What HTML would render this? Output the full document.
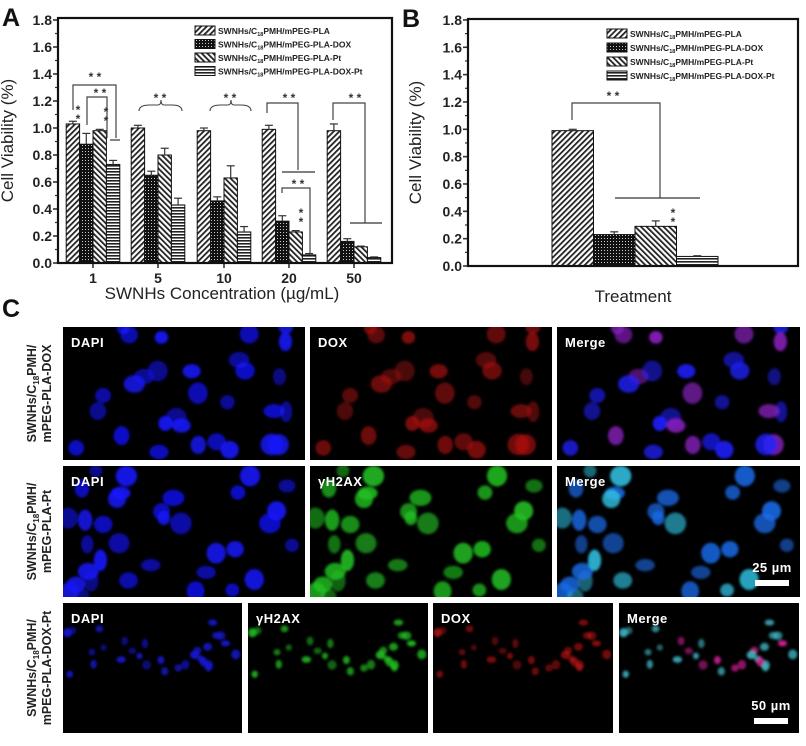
<!DOCTYPE html>
<html><head><meta charset="utf-8">
<style>
html,body{margin:0;padding:0;background:#fff;width:806px;height:746px;overflow:hidden}
svg{display:block;font-family:"Liberation Sans",Arial,sans-serif}
.tk{font-size:14px;font-weight:bold;fill:#222}
.lg{font-size:8.5px;font-weight:bold;fill:#222}
.ttl{font-size:17px;fill:#222}
.pl{font-size:13px;font-weight:bold;fill:#fff;letter-spacing:0.5px}
.rl{font-size:12.5px;font-weight:bold;fill:#222}
</style></head>
<body>
<svg id="fig" width="806" height="746" viewBox="0 0 806 746">
<defs>
<pattern id="pFwd" patternUnits="userSpaceOnUse" width="4" height="4" patternTransform="rotate(45)"><rect width="4" height="4" fill="#fff"/><rect width="1.8" height="4" fill="#222"/></pattern>
<pattern id="pDot" patternUnits="userSpaceOnUse" width="3" height="3"><rect width="3" height="3" fill="#111"/><rect x="1" y="1" width="1" height="1" fill="#ccc"/></pattern>
<pattern id="pBack" patternUnits="userSpaceOnUse" width="4" height="4" patternTransform="rotate(-45)"><rect width="4" height="4" fill="#fff"/><rect width="1.8" height="4" fill="#222"/></pattern>
<pattern id="pHor" patternUnits="userSpaceOnUse" width="4" height="3"><rect width="4" height="3" fill="#fff"/><rect width="4" height="1.6" fill="#222"/></pattern>
<filter id="blur" x="-30%" y="-30%" width="160%" height="160%"><feGaussianBlur stdDeviation="1.2"/></filter>
</defs>
<g id="panelA"></g>
<g id="panelB"></g>
<g id="panelC"></g>
</svg>
<script>
// ---- Panel A data ----
const catsA = ["1","5","10","20","50"];
const seriesNames = ["SWNHs/C18PMH/mPEG-PLA","SWNHs/C18PMH/mPEG-PLA-DOX","SWNHs/C18PMH/mPEG-PLA-Pt","SWNHs/C18PMH/mPEG-PLA-DOX-Pt"];
const plaA    = [1.03, 1.00, 0.98, 0.99, 0.98];
const plaErrA = [0.02, 0.02, 0.02, 0.03, 0.05];
const doxA    = [0.88, 0.65, 0.46, 0.31, 0.16];
const doxErrA = [0.08, 0.03, 0.03, 0.04, 0.02];
const ptA     = [0.98, 0.80, 0.63, 0.23, 0.12];
const ptErrA  = [0.01, 0.05, 0.09, 0.01, 0.005];
const dpA     = [0.73, 0.43, 0.23, 0.06, 0.04];
const dpErrA  = [0.03, 0.05, 0.04, 0.01, 0.005];
// ---- Panel B data ----
const valsB = [0.99, 0.23, 0.29, 0.07];
const errB  = [0.01, 0.02, 0.04, 0.005];
const yTicks = ["0.0","0.2","0.4","0.6","0.8","1.0","1.2","1.4","1.6","1.8"];

const NS="http://www.w3.org/2000/svg";
const fills=["url(#pFwd)","url(#pDot)","url(#pBack)","url(#pHor)"];
function mk(tag,attrs,parent){const e=document.createElementNS(NS,tag);for(const k in attrs)e.setAttribute(k,attrs[k]);if(parent)parent.appendChild(e);return e;}
function txt(parent,x,y,s,cls,anchor){const t=mk("text",{x:x,y:y,class:cls,"text-anchor":anchor||"start"},parent);t.textContent=s;return t;}
function line(p,x1,y1,x2,y2,w){return mk("line",{x1,y1,x2,y2,stroke:"#333","stroke-width":w||1.2},p);}
function poly(p,pts){return mk("polyline",{points:pts.map(a=>a.join(",")).join(" "),fill:"none",stroke:"#444","stroke-width":1.2},p);}

function axes(g,L,R,T,B,yFn,letter,titleX,letterX){
  for(let i=0;i<yTicks.length;i++){
    const v=parseFloat(yTicks[i]);const y=yFn(v);
    line(g,L-5,y,L,y,1.6);
    if(i<yTicks.length-1) line(g,L-3,yFn(v+0.1),L,yFn(v+0.1),1.2);
    const t=txt(g,L-6,y+5,yTicks[i],"tk","end");
    
    
  }
  const r=mk("rect",{x:L,y:T,width:R-L,height:B-T,fill:"none",stroke:"#111","stroke-width":2.2},g);
  
  
  const yt=txt(g,0,0,"Cell Viability (%)","ttl","middle");
  yt.setAttribute("transform",`translate(${titleX},${(T+B)/2}) rotate(-90)`);
  
  
  const lt=txt(g,letterX,T+8,letter,"","start");
  lt.setAttribute("style","font-size:25px;font-weight:bold;fill:#111");
  
  
}
function legend(g,x,y0,dy){
  for(let i=0;i<4;i++){
    const y=y0+i*dy;
    const b=mk("rect",{x:x,y:y,width:20,height:9,fill:fills[i],stroke:"#111","stroke-width":1},g);
    
    
    const t=mk("text",{x:x+23,y:y+8,class:"lg"},g);
    
    
    const n=seriesNames[i];
    const a=mk("tspan",{},t);a.textContent="SWNHs/C";
    const s=mk("tspan",{dy:2,"font-size":"5.5px"},t);s.textContent="18";
    const c=mk("tspan",{dy:-2},t);c.textContent=n.slice(n.indexOf("PMH"));
  }
}
function bar(g,x,w,v,err,yFn,fill){
  const r=mk("rect",{x:x,y:yFn(v),width:w,height:yFn(0)-yFn(v),fill:fill,stroke:"#111","stroke-width":1},g);
  
  
  const cx=x+w/2,top=yFn(v+err);
  line(g,cx,yFn(v),cx,top,1.2);line(g,cx-4,top,cx+4,top,1.2);
}
function stars(g,x,y,vertical){
  if(vertical){txt(g,x,y,"*","","middle").setAttribute("style","font-size:12px;font-weight:bold;fill:#333");txt(g,x,y+9,"*","","middle").setAttribute("style","font-size:12px;font-weight:bold;fill:#333");}
  else{const t=txt(g,x,y,"* *","","middle");t.setAttribute("style","font-size:12px;font-weight:bold;fill:#333");}
}

// ---- Panel A ----
(function(){
  const g=document.getElementById("panelA");
  const L=58,R=392,T=18,B=263;
  const yA=v=>B-v*135;
  const centers=[93,158,224,289,354];
  const bw=13.4;
  const series=[[plaA,plaErrA],[doxA,doxErrA],[ptA,ptErrA],[dpA,dpErrA]];
  for(let c=0;c<catsA.length;c++){
    for(let s=0;s<4;s++){
      bar(g,centers[c]-2*bw+s*bw,bw,series[s][0][c],series[s][1][c],yA,fills[s]);
    }
    line(g,centers[c],B,centers[c],B+5,1.6);
    const t=txt(g,centers[c],B+20,catsA[c],"tk","middle");
    
    
  }
  axes(g,L,R,T,B,yA,"A",13,2);
  const xt=txt(g,222,299,"SWNHs Concentration (\u00b5g/mL)","ttl","middle");
  
  
  legend(g,195,26,13.5);
  poly(g,[[73,110],[73,85],[116,85],[116,138]]);line(g,110,140,120,140);stars(g,95,81);
  poly(g,[[87,125],[87,97],[107,97],[107,138]]);stars(g,100,97);
  stars(g,78,114,true);stars(g,106,116,true);
  mk("path",{d:"M139,111 Q139,105 150,105 L158,105 Q161,105 161,100 Q161,105 164,105 L172,105 Q182,105 182,111",fill:"none",stroke:"#444","stroke-width":1.1},g);stars(g,160,102);
  mk("path",{d:"M210,111 Q210,105 221,105 L228,105 Q231,105 231,100 Q231,105 234,105 L241,105 Q251,105 251,111",fill:"none",stroke:"#444","stroke-width":1.1},g);stars(g,230,102);
  poly(g,[[267,113],[267,103],[298,103],[298,170]]);line(g,282,172,315,172);stars(g,289,102);
  poly(g,[[282,193],[282,188],[310,188],[310,253]]);stars(g,298,188);stars(g,301,217,true);
  poly(g,[[333,120],[333,103],[365,103],[365,223]]);line(g,350,223,382,223);stars(g,355,102);
})();

// ---- Panel B ----
(function(){
  const g=document.getElementById("panelB");
  const L=468,R=798,T=19,B=266;
  const yB=v=>B-v*136.7;
  const x0=552,bw=41.5;
  for(let s=0;s<valsB.length;s++) bar(g,x0+s*bw,bw,valsB[s],errB[s],yB,fills[s]);
  axes(g,L,R,T,B,yB,"B",421,402);
  const xt=txt(g,633,302,"Treatment","ttl","middle");
  
  
  legend(g,607,29,14);
  poly(g,[[572,120],[572,103],[660,103],[660,198]]);line(g,615,198,700,198);stars(g,613,100);stars(g,673,217,true);
})();

// ---- Panel C (micrographs) ----
(function(){
  const g=document.getElementById("panelC");
  const cl=txt(g,2,317,"C","","start");
  cl.setAttribute("style","font-size:25px;font-weight:bold;fill:#111");
  
  
  let seed=7;
  function rnd(){seed=(seed*16807)%2147483647;return seed/2147483647;}
  function cells(n,w,h,rmin,rmax,band){
    const a=[];for(let i=0;i<n;i++){
      const y=band?band[0]*h+rnd()*(band[1]-band[0])*h:rnd()*h;
      a.push({x:rnd()*w,y:y,rx:rmin+rnd()*(rmax-rmin),ry:rmin+rnd()*(rmax-rmin),a:0.5+rnd()*0.4,m:rnd()});
    }return a;}
  const rows=[
    {y:327,h:133,panels:[[63,242,"DAPI"],[310,242,"DOX"],[557,243,"Merge"]],cells:cells(30,242,133,6,11),cols:["#1515ff","#c41414","merge1"],label:["SWNHs/C","mPEG-PLA-DOX"]},
    {y:466,h:131,panels:[[63,242,"DAPI"],[310,242,"\u03b3H2AX"],[557,243,"Merge"]],cells:cells(34,242,131,6,11),cols:["#1515ff","#22c022","merge2"],label:["SWNHs/C","mPEG-PLA-Pt"],scale:"25 \u00b5m"},
    {y:603,h:130,panels:[[63,179,"DAPI"],[248,180,"\u03b3H2AX"],[433,180,"DOX"],[619,180,"Merge"]],cells:cells(30,179,130,3,5,[0.15,0.55]),cols:["#1818e0","#22c022","#d01818","merge3"],label:["SWNHs/C","mPEG-PLA-DOX-Pt"],scale:"50 \u00b5m"}
  ];
  rows.forEach((row,ri)=>{
    row.panels.forEach((p,pi)=>{
      const pg=mk("svg",{x:p[0],y:row.y,width:p[1],height:row.h,overflow:"hidden"},g);
      
      
      mk("rect",{width:p[1],height:row.h,fill:"#000"},pg);
      const cg=mk("g",{filter:"url(#blur)"},pg);
      const sx=p[1]/row.panels[0][1];
      const col=row.cols[pi];
      row.cells.forEach(c=>{
        let f=col,op=c.a;
        if(col==="merge1") f=c.m<0.35?"#8a20c0":"#2020ff";
        if(col==="merge2") f=c.m<0.4?"#30c0e0":"#1a6ae8";
        if(col==="merge3") f=c.m<0.25?"#e020a0":"#40b8c8";
        if(col==="#c41414"||col==="#d01818") op=c.a*0.7;
        mk("ellipse",{cx:c.x*sx,cy:c.y,rx:c.rx,ry:c.ry,fill:f,opacity:op},cg);
      });
      const t=txt(pg,8,20,p[2],"pl","start");
      
      
      if(row.scale && pi===row.panels.length-1){
        const st=txt(pg,p[1]-28,ri===1?106:107,row.scale,"pl","middle");
        
        
        const sb=mk("rect",{x:p[1]-45,y:ri===1?114:115,width:34,height:6,fill:"#fff"},pg);
        
        
      }
    });
    const cy=row.y+row.h/2;
    const lt=mk("text",{class:"rl","text-anchor":"middle",transform:`translate(36,${cy}) rotate(-90)`},g);
    
    
    const a=mk("tspan",{},lt);a.textContent="SWNHs/C";
    const s=mk("tspan",{dy:3,"font-size":"8px"},lt);s.textContent="18";
    const b=mk("tspan",{dy:-3},lt);b.textContent="PMH/";
    const l2=mk("tspan",{x:0,dy:15},lt);l2.textContent=row.label[1];
  });
})();
</script>
</body></html>
